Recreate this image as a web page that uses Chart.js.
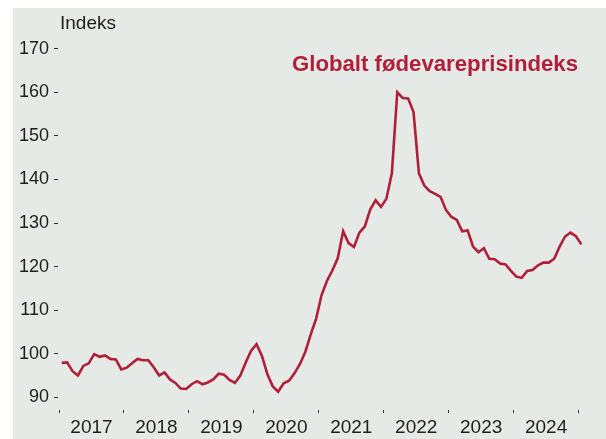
<!DOCTYPE html>
<html>
<head>
<meta charset="utf-8">
<script src="https://cdn.jsdelivr.net/npm/chart.js@4.4.1/dist/chart.umd.min.js"></script>
<style>
  html, body { margin: 0; padding: 0; background: #fff; }
  body { width: 606px; height: 439px; position: relative; overflow: hidden; font-family: "Liberation Sans", Arial, sans-serif; }
  #panel { position: absolute; left: 13px; top: 8px; width: 593px; height: 431px; background: #e6eae7; }
  #chart { position: absolute; left: 0; top: 0; }
  .unit { position: absolute; left: 47px; top: 5px; font-size: 19px; line-height: 1; color: #1e1e1e; }
  .name { position: absolute; left: 279px; top: 45px; font-size: 22.2px; line-height: 1; font-weight: bold; color: #b21e37; }
</style>
</head>
<body>
<div id="panel">
  <canvas id="chart" width="593" height="431"></canvas>
  <div class="unit">Indeks</div>
  <div class="name">Globalt fødevareprisindeks</div>
</div>
<script>
// Data: monthly index, Jan 2017 - Jan 2025
const years = ['2017', '2018', '2019', '2020', '2021', '2022', '2023', '2024']
const values = [
	97.9, 98.0, 96.0, 95.0, 97.2, 97.8, 99.9, 99.3, 99.6, 98.8, 98.7, 96.4,
	96.8, 97.8, 98.8, 98.5, 98.5, 96.9, 95.0, 95.7, 94.1, 93.3, 92.0, 91.9,
	93.0, 93.7, 93.0, 93.4, 94.1, 95.4, 95.2, 94.0, 93.3, 95.0, 98.0, 100.7,
	102.2, 99.5, 95.3, 92.5, 91.3, 93.2, 93.8, 95.5, 97.6, 100.4, 104.4, 108.0,
	113.4, 116.7, 119.1, 121.9, 128.1, 125.4, 124.5, 127.8, 129.2, 133.1, 135.2, 133.7,
	135.6, 141.4, 160.0, 158.7, 158.6, 155.5, 141.4, 138.6, 137.3, 136.7, 136.0, 133.0,
	131.4, 130.7, 128.1, 128.3, 124.6, 123.3, 124.2, 121.8, 121.7, 120.7, 120.5, 119.0,
	117.7, 117.4, 119.0, 119.2, 120.3, 120.9, 120.9, 121.8, 124.6, 126.9, 127.8, 127.0,
	125.1
]
const yTicks = [90, 100, 110, 120, 130, 140, 150, 160, 170]

const RED = '#b21e37'
const INK = '#1e1e1e'
const FONT = '"Liberation Sans", Arial, sans-serif'

// x ticks every half year: even ones are year boundaries (tick marks), odd ones carry the year label
const xTicks = []
for (let i = 0; i <= years.length * 2; i++) {
	xTicks.push(-0.5 + i * 6)
}

new Chart(document.getElementById('chart'), {
	type: 'line',
	data: {
		datasets: [{
			data: values.map((v, i) => ({ x: i, y: v })),
			borderColor: RED,
			borderWidth: 2.6,
			pointRadius: 0,
			tension: 0,
			fill: false
		}]
	},
	options: {
		responsive: false,
		animation: false,
		devicePixelRatio: 1,
		layout: { padding: { top: 32, right: 22, left: 0, bottom: 0 } },
		plugins: { legend: { display: false }, tooltip: { enabled: false } },
		scales: {
			x: {
				type: 'linear',
				min: -0.5,
				max: 96.5,
				afterBuildTicks: s => { s.ticks = xTicks.map(v => ({ value: v })) },
				afterFit: s => { s.height = 33 },
				border: { display: false },
				grid: {
					drawOnChartArea: false,
					tickLength: 7,
					tickWidth: 1,
					tickBorderDash: [0, 4, 3, 20],
					color: c => c.index % 2 === 0 ? '#333' : 'rgba(0,0,0,0)'
				},
				ticks: {
					autoSkip: false,
					maxRotation: 0,
					padding: 3,
					color: INK,
					font: { family: FONT, size: 19 },
					callback: (v, i) => i % 2 ? years[(i - 1) / 2] : ''
				}
			},
			y: {
				min: 88,
				max: 172,
				afterBuildTicks: s => { s.ticks = yTicks.map(v => ({ value: v })) },
				afterFit: s => { s.width = 46 },
				border: { display: false },
				grid: {
					drawOnChartArea: false,
					tickLength: 9,
					tickWidth: 1.2,
					tickBorderDash: [0, 4, 4, 20],
					color: '#333'
				},
				ticks: {
					padding: 1,
					color: INK,
					font: { family: FONT, size: 18 }
				}
			}
		}
	}
})
</script>
</body>
</html>
